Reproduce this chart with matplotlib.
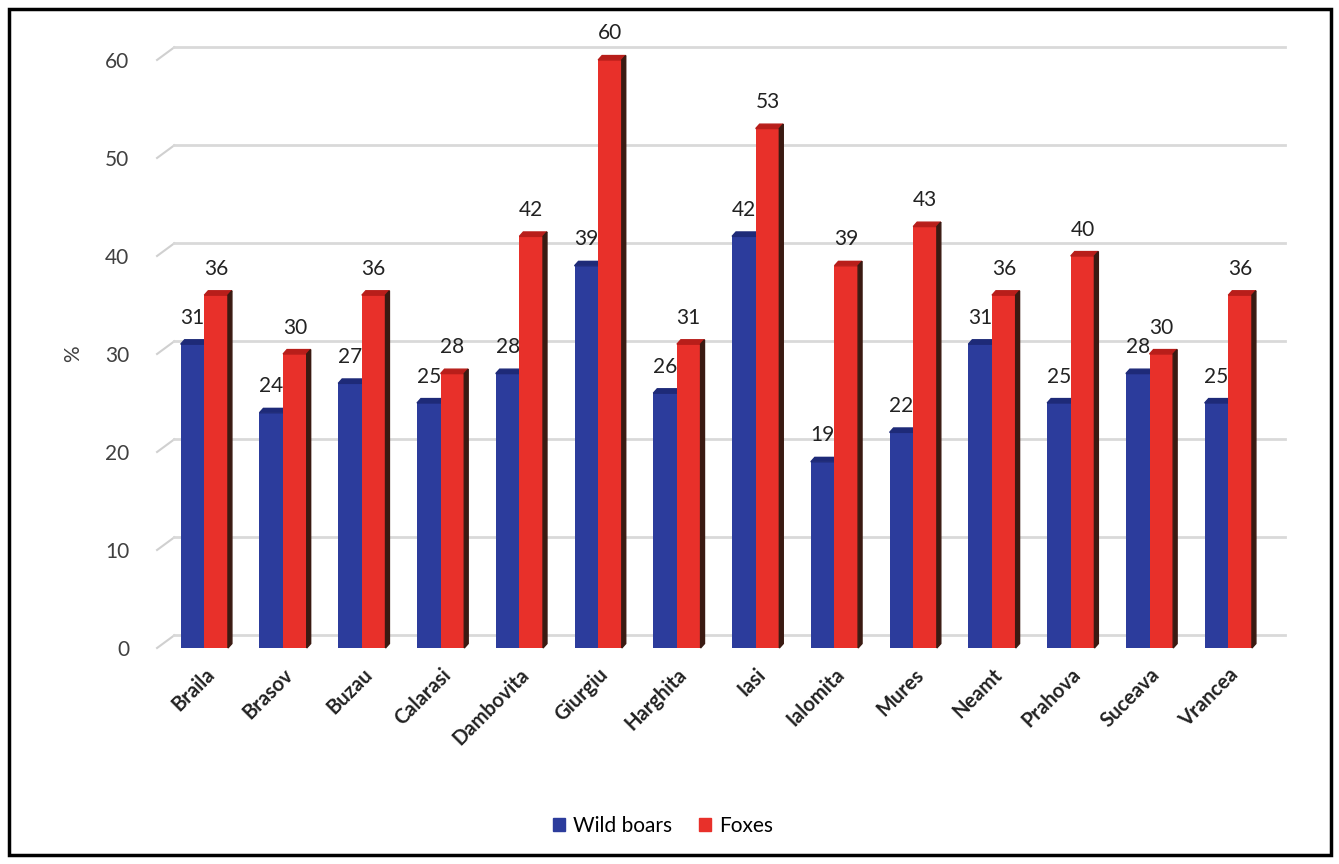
import matplotlib
matplotlib.use("Agg")
import matplotlib.pyplot as plt
from matplotlib.patches import Polygon, Rectangle
import numpy as np

plt.rcParams['font.family'] = ['Lato', 'DejaVu Sans']

counties = ["Braila", "Brasov", "Buzau", "Calarasi", "Dambovita", "Giurgiu", "Harghita",
            "Iasi", "Ialomita", "Mures", "Neamt", "Prahova", "Suceava", "Vrancea"]
wild_boars = [31, 24, 27, 25, 28, 39, 26, 42, 19, 22, 31, 25, 28, 25]
foxes = [36, 30, 36, 28, 42, 60, 31, 53, 39, 43, 36, 40, 30, 36]
yticks = [0, 10, 20, 30, 40, 50, 60]

BLUE, BLUE_TOP = "#2c3c9c", "#1e2a78"
RED, RED_TOP, SIDE = "#e8302a", "#b81e1a", "#3a1a12"

fig = plt.figure(figsize=(13.39, 8.64), dpi=100)
ax = fig.add_axes([0.1173, 0.25, 0.8424, 0.6806])
x = np.arange(len(counties))
w = 0.3
dx, dy = 0.05, 0.45
xl, xr = -0.6, 13.72

# back-wall gridlines with small slanted edge
for t in yticks:
    ax.plot([xl, xl + 0.22], [t, t + 1.3], color="#d0d0d0", lw=1.5, clip_on=False, zorder=0)
    ax.plot([xl + 0.22, xr], [t + 1.3, t + 1.3], color="#d9d9d9", lw=2, clip_on=False, zorder=0)

ax.bar(x - w / 2, wild_boars, w, color=BLUE, zorder=2)
ax.bar(x + w / 2, foxes, w, color=RED, zorder=3)
for xi, b, f in zip(x, wild_boars, foxes):
    x0, x1 = xi - w, xi
    ax.add_patch(Polygon([(x0, b), (x0 + dx, b + dy), (x1 + dx, b + dy), (x1, b)],
                         color=BLUE_TOP, zorder=2, clip_on=False))
    x0, x1 = xi, xi + w
    ax.add_patch(Polygon([(x0, f), (x0 + dx, f + dy), (x1 + dx, f + dy), (x1, f)],
                         color=RED_TOP, zorder=3, clip_on=False))
    ax.add_patch(Polygon([(x1, 0), (x1 + dx, dy), (x1 + dx, f + dy), (x1, f)],
                         color=SIDE, zorder=3, clip_on=False))
    ax.text(xi - w / 2, b + 2.7, str(b), ha="center", va="center", fontsize=15, color="#222222", zorder=5)
    ax.text(xi + w / 2, f + 2.7, str(f), ha="center", va="center", fontsize=15, color="#222222", zorder=5)

ax.set_xlim(xl, xr)
ax.set_ylim(0, 60)
ax.set_yticks(yticks)
ax.set_xticks(x)
ax.set_xticklabels(counties, rotation=45, ha="right", rotation_mode="anchor",
                   fontsize=14.5, fontweight="bold", color="#222222")
ax.tick_params(axis="both", length=0)
ax.tick_params(axis="y", labelsize=15, labelcolor="#404040", pad=20)
ax.tick_params(axis="x", pad=12)
for s in ax.spines.values():
    s.set_visible(False)
ax.set_ylabel("%", fontsize=15, color="#404040", labelpad=16)

handles = [Rectangle((0, 0), 1, 1, color=BLUE), Rectangle((0, 0), 1, 1, color=RED)]
fig.legend(handles, ["Wild boars", "Foxes"], loc="center", bbox_to_anchor=(0.495, 0.044),
           ncol=2, frameon=False, fontsize=15, handlelength=0.6, handleheight=0.6,
           handletextpad=0.35, columnspacing=1.3)

fig.add_artist(Rectangle((0.007, 0.01), 0.987, 0.98, transform=fig.transFigure,
                         fill=False, edgecolor="black", lw=2.5))

fig.savefig("out.png", dpi=100)
